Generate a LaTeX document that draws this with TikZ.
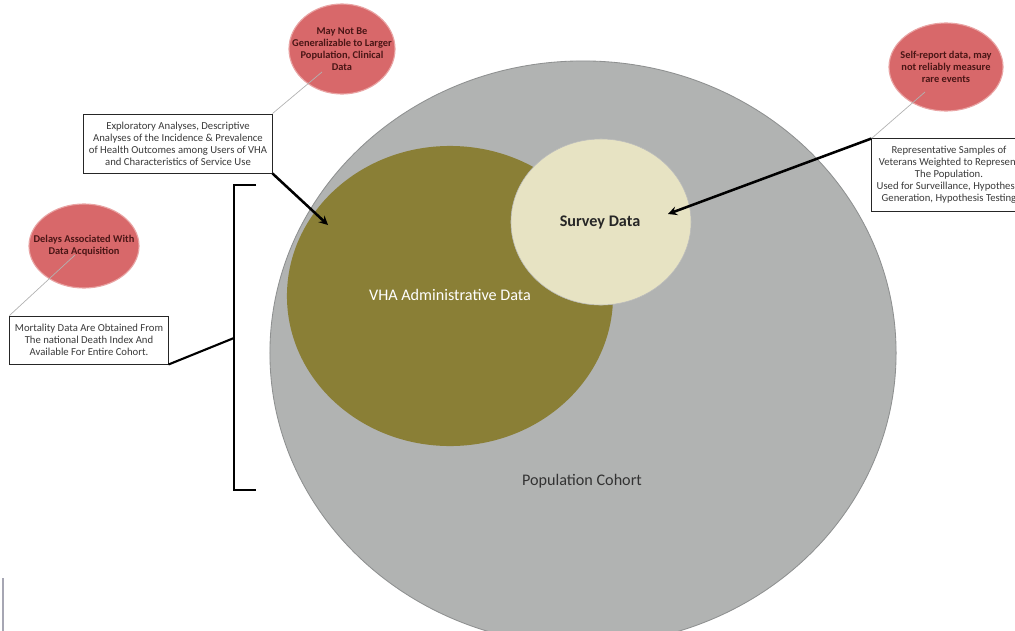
\documentclass[tikz,border=0pt]{standalone}
\usepackage{fontspec}
\setmainfont{Carlito}
\usepackage{xcolor}
\usepackage{tikz}
\usetikzlibrary{shapes.geometric, arrows}
\definecolor{cohortgray}{HTML}{B1B3B2}
\definecolor{cohortedge}{HTML}{8E9090}
\definecolor{vhaolive}{HTML}{8A7F36}
\definecolor{surveycream}{HTML}{E7E3C3}
\definecolor{notered}{HTML}{D8686A}
\definecolor{noteedge}{HTML}{E9A4A4}
\definecolor{notetext}{HTML}{4A1616}
\definecolor{boxtext}{HTML}{3A3A3A}
\tikzstyle{cohort} = [ellipse, minimum width=15.65cm, minimum height=14.6cm, fill=cohortgray, draw=cohortedge, line width=0.6pt]
\tikzstyle{vha} = [ellipse, minimum width=8.15cm, minimum height=7.5cm, fill=vhaolive]
\tikzstyle{survey} = [ellipse, minimum width=4.5cm, minimum height=4.15cm, fill=surveycream, draw=cohortedge!60, line width=0.4pt]
\tikzstyle{caveat} = [ellipse, fill=notered, draw=noteedge, line width=0.8pt]
\tikzstyle{caveattext} = [align=center, font=\fontsize{7.4}{8.6}\selectfont\bfseries, text=notetext]
\tikzstyle{usebox} = [rectangle, draw=black!85, line width=0.7pt, fill=white, align=center, font=\fontsize{7.6}{8.6}\selectfont, text=boxtext, inner sep=1pt]
\tikzstyle{arrow} = [line width=1.8pt, ->, >=stealth]
\tikzstyle{callout} = [draw=black!30, line width=0.5pt]
\tikzstyle{bracket} = [line width=1.5pt]

\begin{document}
\begin{tikzpicture}[x=0.025cm, y=-0.025cm]
\useasboundingbox (0,0) rectangle (1015,631);
\clip (0,0) rectangle (1015,631);
\node (cohort) [cohort] at (583,353) {};
\node (vha) [vha] at (450,296) {};
\node (survey) [survey] at (601,222) {};
\node (cohortlabel) [text=black!80, font=\fontsize{11.5}{13}\selectfont] at (582,481) {Population Cohort};
\node (vhalabel) [text=white, font=\fontsize{11.5}{13}\selectfont] at (450,295) {VHA Administrative Data};
\node (surveylabel) [text=black!85, font=\fontsize{11.5}{13}\selectfont\bfseries] at (600,222) {Survey Data};

\node (caveattop) [caveat, minimum width=2.65cm, minimum height=2.25cm, label={[caveattext]center:May Not Be\\Generalizable to Larger\\Population, Clinical\\Data}] at (342,49) {};
\node (caveatright) [caveat, minimum width=2.85cm, minimum height=2.2cm, label={[caveattext]center:Self-report data, may\\not reliably measure\\rare events}] at (946,67) {};
\node (caveatleft) [caveat, minimum width=2.75cm, minimum height=2.1cm, label={[caveattext]center:Delays Associated With\\Data Acquisition}] at (84,246) {};

\node (vhanote) [usebox, minimum width=4.7cm, minimum height=1.475cm] at (178,143.5) {Exploratory Analyses, Descriptive\\Analyses of the Incidence \& Prevalence\\of Health Outcomes among Users of VHA\\and Characteristics of Service Use};
\node (surveynote) [usebox, minimum width=3.85cm, minimum height=1.8cm] at (949,175) {Representative Samples of\\Veterans Weighted to Represent\\The Population.\\Used for Surveillance, Hypothesis\\Generation, Hypothesis Testing};
\node (mortnote) [usebox, minimum width=3.95cm, minimum height=1.2cm] at (89,340) {Mortality Data Are Obtained From\\The national Death Index And\\Available For Entire Cohort.};

\coordinate (vhatip) at (328,225);
\coordinate (surveytip) at (668,214);
\coordinate (brtop) at (234,185);
\coordinate (brbot) at (234,490);
\coordinate (brmid) at (234,338);
\coordinate (toppin) at (322,72);
\coordinate (rightpin) at (925,92);
\coordinate (leftpin) at (75,255);

\draw [callout] (vhanote.north east) -- (toppin);
\draw [callout] (surveynote.north west) -- (rightpin);
\draw [callout] (mortnote.north west) -- (leftpin);
\draw [arrow] (vhanote.south east) -- (vhatip);
\draw [arrow] (surveynote.north west) -- (surveytip);
\draw [bracket] ([xshift=0.55cm]brtop) -- (brtop) -- (brbot) -- ([xshift=0.55cm]brbot);
\draw [bracket] (mortnote.south east) -- (brmid);
\draw [draw=blue!15!black!35, line width=1pt] (3,578) -- (3,631);
\end{tikzpicture}
\end{document}
